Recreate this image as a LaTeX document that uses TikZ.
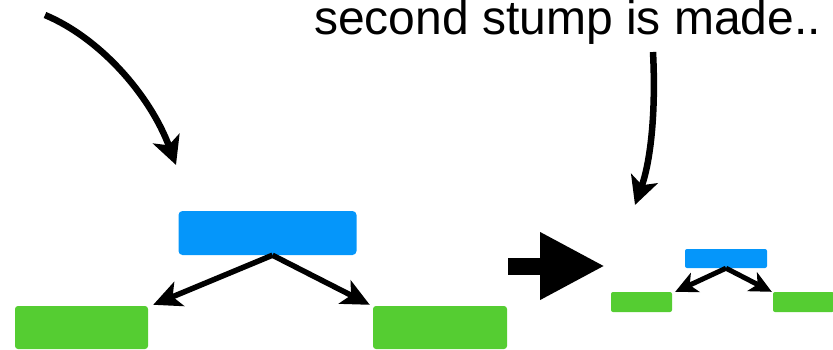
\documentclass[tikz,border=0pt]{standalone}
\usepackage{fontspec}
\setmainfont{Liberation Sans}
\usetikzlibrary{arrows.meta}
\definecolor{stumpblue}{RGB}{5,150,250}
\definecolor{leafgreen}{RGB}{85,205,50}

\begin{document}
\begin{tikzpicture}[
    x=1pt, y=-1pt,
    split/.style={%
      fill=stumpblue,
      rectangle,
      rounded corners=4pt,
      inner sep=0pt,
    },
    leaf/.style={%
      fill=leafgreen,
      rectangle,
      rounded corners=3pt,
      inner sep=0pt,
    },
    branch/.style={%
      line width=5.5pt,
      -{Stealth[length=28pt,width=26pt,inset=7pt]},
    },
    twig/.style={%
      line width=5pt,
      -{Stealth[length=22pt,width=21pt,inset=6pt]},
    },
    pointer/.style={%
      line width=6.5pt,
      -{Stealth[length=28pt,width=28pt,inset=7pt]},
    },
  ]
    \useasboundingbox (0,0) rectangle (833,349);

    % first stump
    \node [split, minimum width=178pt, minimum height=44pt] (A) at (267.5,233) {};
    \path (A) ++(-186,94.5) node [leaf, minimum width=133pt, minimum height=43pt] (B) {};
    \path (A) ++(172.5,94.5) node [leaf, minimum width=134pt, minimum height=43pt] (C) {};

    \draw [branch] ([xshift=5pt]A.south) -- ([xshift=5pt,yshift=1pt]B.north east);
    \draw [branch] ([xshift=5pt]A.south) -- ([xshift=-3pt,yshift=1pt]C.north west);

    % second stump, drawn small
    \node [split, rounded corners=2pt, minimum width=82pt, minimum height=19pt] (D) at (726,258.5) {};
    \path (D) ++(-84.5,43.5) node [leaf, rounded corners=2pt, minimum width=61pt, minimum height=20pt] (E) {};
    \path (D) ++(77.5,43.5) node [leaf, rounded corners=2pt, minimum width=61pt, minimum height=20pt] (F) {};

    \draw [twig] (D.south) -- ([xshift=3pt]E.north east);
    \draw [twig] (D.south) -- ([xshift=-1pt]F.north west);

    % big arrow between the two
    \coordinate (tail) at (508,266);
    \coordinate (tip) at (605,266);
    \draw [line width=17pt, -{Triangle[length=65pt,width=63pt]}] (tail) -- (tip);

    % caption and pointers
    \node [anchor=base west, inner sep=0pt, font=\fontsize{48pt}{56pt}\selectfont] (T) at (314,34) {second stump is made..};

    \coordinate (p1) at (45,15);
    \coordinate (q1) at (176,165);
    \draw [pointer] (p1) .. controls (100,38) and (150,95) .. (q1);

    \coordinate (p2) at (653,52);
    \coordinate (q2) at (635,205);
    \draw [pointer] (p2) .. controls (656,110) and (651,160) .. (q2);

\end{tikzpicture}
\end{document}
